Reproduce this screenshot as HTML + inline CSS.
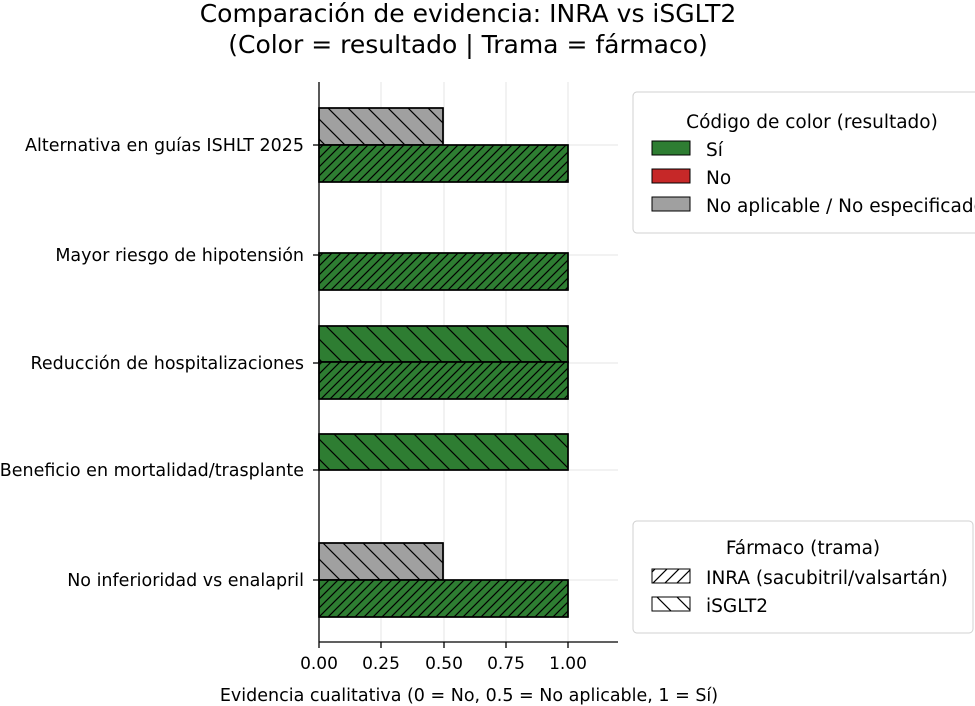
<!DOCTYPE html>
<html><head><meta charset="utf-8"><style>body{margin:0;background:#fff}svg{display:block}text{font-family:"DejaVu Sans","Liberation Sans",sans-serif;fill:#000}</style></head>
<body>
<svg width="975" height="706" xmlns="http://www.w3.org/2000/svg">
<defs>
<pattern id="fw" patternUnits="userSpaceOnUse" width="9" height="9"><path d="M-2,2 L2,-2 M0,9 L9,0 M7,11 L11,7" stroke="#000" stroke-width="1.2"/></pattern>
<pattern id="bk" patternUnits="userSpaceOnUse" width="20" height="20"><path d="M-5,15 L5,25 M0,0 L20,20 M15,-5 L25,5" stroke="#000" stroke-width="1.2"/></pattern>
<pattern id="fwl" patternUnits="userSpaceOnUse" width="12" height="12"><path d="M-3,3 L3,-3 M0,12 L12,0 M9,15 L15,9" stroke="#000" stroke-width="1.2"/></pattern>
</defs>
<text x="468" y="22" font-size="25" text-anchor="middle">Comparación de evidencia: INRA vs iSGLT2</text>
<text x="468" y="53" font-size="25" text-anchor="middle">(Color = resultado | Trama = fármaco)</text>
<g stroke="#e6e6e6" stroke-width="1">
<line x1="381" y1="82" x2="381" y2="642"/><line x1="444" y1="82" x2="444" y2="642"/><line x1="506" y1="82" x2="506" y2="642"/><line x1="568" y1="82" x2="568" y2="642"/>
<line x1="319" y1="145" x2="618" y2="145"/><line x1="319" y1="255" x2="618" y2="255"/><line x1="319" y1="363" x2="618" y2="363"/><line x1="319" y1="470" x2="618" y2="470"/><line x1="319" y1="580" x2="618" y2="580"/>
</g>
<g stroke="#000" stroke-width="1.5">
<rect x="319" y="108" width="124" height="37" fill="#a0a0a0"/><rect x="319" y="108" width="124" height="37" fill="url(#bk)"/>
<rect x="319" y="145" width="249" height="37" fill="#2e7d32"/><rect x="319" y="145" width="249" height="37" fill="url(#fw)"/>
<rect x="319" y="253" width="249" height="37" fill="#2e7d32"/><rect x="319" y="253" width="249" height="37" fill="url(#fw)"/>
<rect x="319" y="326" width="249" height="36" fill="#2e7d32"/><rect x="319" y="326" width="249" height="36" fill="url(#bk)"/>
<rect x="319" y="362" width="249" height="37" fill="#2e7d32"/><rect x="319" y="362" width="249" height="37" fill="url(#fw)"/>
<rect x="319" y="434" width="249" height="36" fill="#2e7d32"/><rect x="319" y="434" width="249" height="36" fill="url(#bk)"/>
<rect x="319" y="543" width="124" height="37" fill="#a0a0a0"/><rect x="319" y="543" width="124" height="37" fill="url(#bk)"/>
<rect x="319" y="580" width="249" height="37" fill="#2e7d32"/><rect x="319" y="580" width="249" height="37" fill="url(#fw)"/>
</g>
<g stroke="#000" stroke-width="1.3">
<line x1="319" y1="82" x2="319" y2="642"/><line x1="319" y1="642" x2="618" y2="642"/>
<line x1="319" y1="642" x2="319" y2="648"/><line x1="381" y1="642" x2="381" y2="648"/><line x1="444" y1="642" x2="444" y2="648"/><line x1="506" y1="642" x2="506" y2="648"/><line x1="568" y1="642" x2="568" y2="648"/>
<line x1="313" y1="145" x2="319" y2="145"/><line x1="313" y1="255" x2="319" y2="255"/><line x1="313" y1="363" x2="319" y2="363"/><line x1="313" y1="470" x2="319" y2="470"/><line x1="313" y1="580" x2="319" y2="580"/>
</g>
<g font-size="17" text-anchor="middle">
<text x="319" y="669">0.00</text><text x="381" y="669">0.25</text><text x="444" y="669">0.50</text><text x="506" y="669">0.75</text><text x="568" y="669">1.00</text>
<text x="469" y="701" font-size="17.5">Evidencia cualitativa (0 = No, 0.5 = No aplicable, 1 = Sí)</text>
</g>
<g font-size="17.5" text-anchor="end">
<text x="304" y="151">Alternativa en guías ISHLT 2025</text>
<text x="304" y="261">Mayor riesgo de hipotensión</text>
<text x="304" y="369">Reducción de hospitalizaciones</text>
<text x="304" y="476">Beneficio en mortalidad/trasplante</text>
<text x="304" y="586">No inferioridad vs enalapril</text>
</g>
<rect x="633" y="92" width="360" height="141" rx="4" fill="#fff" stroke="#d0d0d0"/>
<g font-size="18.5">
<text x="812" y="128" text-anchor="middle">Código de color (resultado)</text>
<rect x="652" y="141" width="38" height="14" fill="#2e7d32" stroke="#000"/><text x="706" y="156">Sí</text>
<rect x="652" y="169" width="38" height="14" fill="#c62828" stroke="#000"/><text x="706" y="184">No</text>
<rect x="652" y="197" width="38" height="14" fill="#a0a0a0" stroke="#000"/><text x="706" y="212">No aplicable / No especificado</text>
</g>
<rect x="633" y="521" width="340" height="112" rx="4" fill="#fff" stroke="#d0d0d0"/>
<g font-size="18.5">
<text x="803" y="554" text-anchor="middle">Fármaco (trama)</text>
<rect x="652" y="569" width="38" height="14" fill="url(#fwl)" stroke="#000"/><text x="706" y="584">INRA (sacubitril/valsartán)</text>
<rect x="652" y="597" width="38" height="14" fill="url(#bk)" stroke="#000"/><text x="706" y="612">iSGLT2</text>
</g>
</svg>
</body></html>
